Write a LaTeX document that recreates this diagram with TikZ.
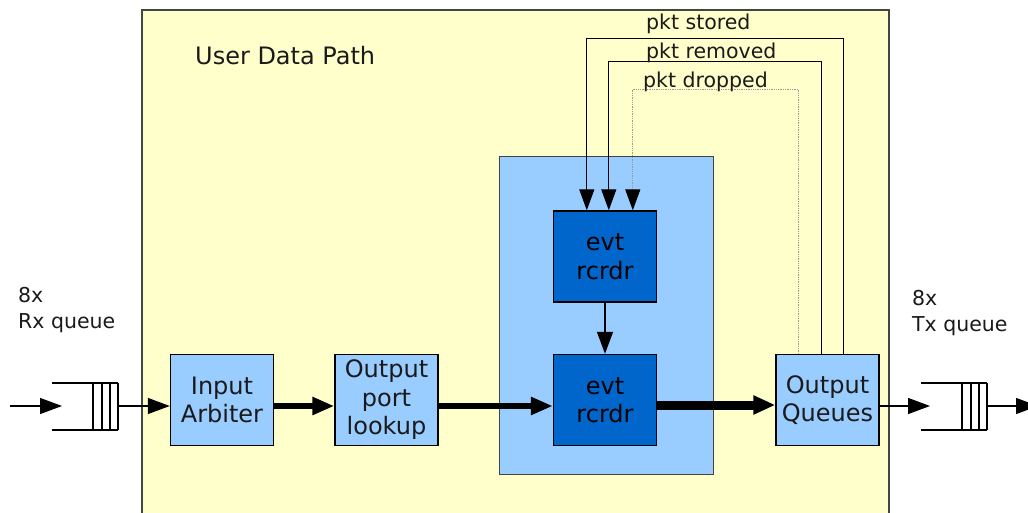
\documentclass[tikz,border=0pt]{standalone}
\usepackage{fontspec}
\setmainfont{DejaVu Sans}
\usetikzlibrary{arrows.meta}
\definecolor{pathyellow}{HTML}{FFFFCC}
\definecolor{lightblue}{HTML}{99CCFF}
\definecolor{darkblue}{HTML}{0066CC}
\definecolor{inkgray}{HTML}{1A1A1A}
\definecolor{framegray}{HTML}{444444}

\begin{document}
\begin{tikzpicture}[x=1pt,y=-1pt,
  block/.style={draw=black, line width=1.4pt, fill=lightblue,
    minimum width=103pt, minimum height=91pt, inner sep=0pt, align=center,
    font=\fontsize{24}{28.5}\selectfont, text=inkgray},
  recorder/.style={block, fill=darkblue, text=black},
  label/.style={anchor=base west, inner sep=0pt, text=inkgray,
    font=\fontsize{20.5}{26}\selectfont, align=left},
  thin arrow/.style={line width=1.3pt, -{Triangle[length=22pt,width=16pt]}},
  data arrow/.style={line width=5.5pt, -{Triangle[length=22pt,width=17pt]}},
  wide arrow/.style={line width=9pt, -{Triangle[length=22pt,width=18pt]}},
  signal/.style={line width=1.3pt, -{Triangle[length=21pt,width=15pt]}},
  weak signal/.style={line width=1.3pt, gray!80, densely dotted,
    -{Triangle[length=21pt,width=15pt,color=black]}},
  queue/.style={line width=1.4pt}
]
\useasboundingbox (0,0) rectangle (1028,513);
\clip (0,0) rectangle (1028,513);

% user data path region
\draw[fill=pathyellow, draw=framegray, line width=1.6pt] (142,10) rectangle (889,540);
\node[anchor=base west, inner sep=0pt, text=inkgray, font=\fontsize{24}{28}\selectfont]
  (udp) at (195,65) {User Data Path};

% event recorder group
\node[draw=framegray, line width=1pt, fill=lightblue, minimum width=214pt,
  minimum height=317pt, inner sep=0pt] (group) at (606,315.5) {};

% processing blocks
\node[block] (arb) at (222,400) {Input\\Arbiter};
\node[block] (opl) at (386.5,400) {Output\\port\\lookup};
\node[recorder] (evtA) at (605,256.5) {evt\\rcrdr};
\node[recorder] (evtB) at (605,400) {evt\\rcrdr};
\node[block] (oq) at (827.5,400) {Output\\Queues};

% receive queue
\draw[queue] (52,383) -- (118,383) (52,430) -- (118,430);
\foreach \x in {93,102,110,118} \draw[queue] (\x,383) -- (\x,430);
\coordinate (rxsrc) at (10,406);
\coordinate (rxin) at (62,406);
\coordinate (rxout) at (118,406);
\draw[thin arrow] (rxsrc) -- (rxin);
\draw[thin arrow] (rxout) -- (arb.west |- rxout);
\node[label] (rxlbl) at (18,302) {8x};
\node[label] (rxlbl2) at (18,328) {Rx queue};

% transmit queue
\draw[queue] (921,383) -- (987,383) (921,430) -- (987,430);
\foreach \x in {962,971,979,987} \draw[queue] (\x,383) -- (\x,430);
\coordinate (txin) at (930,406);
\coordinate (txout) at (987,406);
\coordinate (txdst) at (1038,406);
\draw[thin arrow] (oq.east |- txin) -- (txin);
\draw[thin arrow] (txout) -- (txdst);
\node[label] (txlbl) at (912,305) {8x};
\node[label] (txlbl2) at (912,331) {Tx queue};

% data path
\draw[data arrow] ([yshift=-6pt]arb.east) -- ([yshift=-6pt]opl.west);
\draw[data arrow] ([yshift=-6pt]opl.east) -- ([yshift=-6pt]evtB.west);
\draw[wide arrow] ([yshift=-5pt]evtB.east) -- ([yshift=-5pt]oq.west);
\draw[thin arrow] (evtA.south) -- (evtB.north);

% event feedback from the output queues
\draw[signal] ([xshift=68pt]oq.north west) -- ++(0,-315) -| ([xshift=34pt]evtA.north west);
\draw[signal] ([xshift=46pt]oq.north west) -- ++(0,-292) -| ([xshift=56pt]evtA.north west);
\draw[weak signal] ([xshift=23pt]oq.north west) -- ++(0,-264) -| ([xshift=80pt]evtA.north west);
\node[label] (stored) at (646,30) {pkt stored};
\node[label] (removed) at (646,59) {pkt removed};
\node[label] (dropped) at (643,88) {pkt dropped};
\end{tikzpicture}
\end{document}
